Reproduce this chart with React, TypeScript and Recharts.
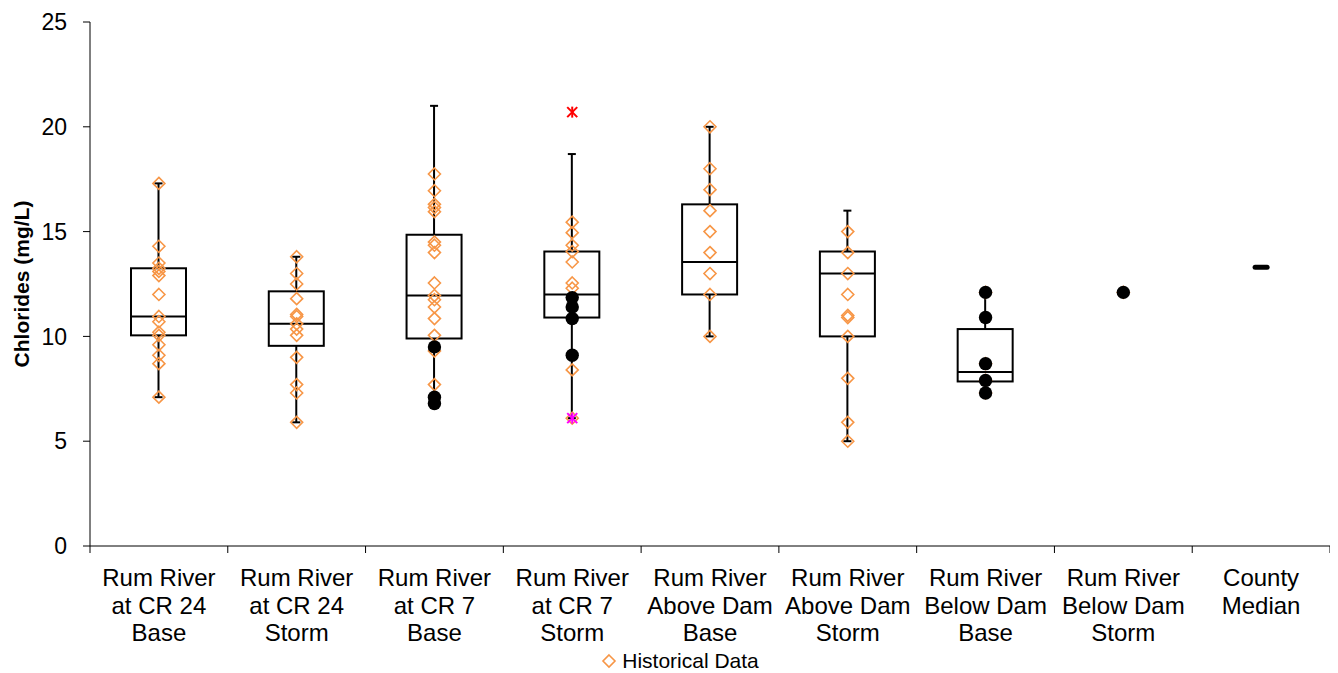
import { ComposedChart, Bar, Scatter, XAxis, YAxis, Legend } from 'recharts';

const FONT = '"Liberation Sans", Arial, sans-serif';
const ORANGE = '#F79646';

// sampling sites along the x axis, one label line per entry
const siteLabels = [
  ['Rum River', 'at CR 24', 'Base'],
  ['Rum River', 'at CR 24', 'Storm'],
  ['Rum River', 'at CR 7', 'Base'],
  ['Rum River', 'at CR 7', 'Storm'],
  ['Rum River', 'Above Dam', 'Base'],
  ['Rum River', 'Above Dam', 'Storm'],
  ['Rum River', 'Below Dam', 'Base'],
  ['Rum River', 'Below Dam', 'Storm'],
  ['County', 'Median'],
];

// box plot statistics (mg/L); null where a site has no box
const whiskerLow = [7.1, 5.9, 6.8, 6.1, 10.0, 5.0, 7.3, null, null];
const quartile1 = [10.05, 9.55, 9.9, 10.9, 12.0, 10.0, 7.85, null, null];
const medians = [10.95, 10.6, 11.95, 12.0, 13.55, 13.0, 8.3, null, null];
const quartile3 = [13.25, 12.15, 14.85, 14.05, 16.3, 14.05, 10.35, null, null];
const whiskerHigh = [17.3, 13.8, 21.0, 18.7, 20.0, 16.0, 12.1, null, null];

// historical samples per site
const historical = [
  [17.3, 14.3, 13.5, 13.25, 13.1, 12.9, 12.0, 10.95, 10.7, 10.2, 10.05, 9.6, 9.1, 8.7, 7.1],
  [13.8, 13.0, 12.5, 11.8, 11.05, 10.95, 10.6, 10.35, 10.05, 9.0, 7.7, 7.3, 5.9],
  [17.75, 16.95, 16.3, 16.15, 15.95, 14.5, 14.35, 14.0, 12.55, 11.95, 11.75, 11.4, 10.85, 10.05, 9.3, 7.7],
  [15.45, 14.95, 14.35, 14.05, 13.55, 12.55, 12.3, 8.4, 6.1],
  [20.0, 18.0, 17.0, 16.0, 15.0, 14.0, 13.0, 12.0, 10.0],
  [15.0, 14.0, 13.0, 12.0, 11.0, 10.9, 10.0, 8.0, 5.9, 5.0],
  [12.1, 8.7, 7.9, 7.3],
  [12.1],
  [],
];

// current year samples per site
const current = [
  [],
  [],
  [9.5, 7.1, 6.8],
  [11.85, 11.4, 10.85, 9.1],
  [],
  [],
  [12.1, 10.9, 8.7, 7.9, 7.3],
  [12.1],
  [],
];

// flagged maximum / minimum (site index 3)
const flaggedHigh = [{ site: 3, value: 20.7 }];
const flaggedLow = [{ site: 3, value: 6.1 }];

const countyMedian = [{ site: 8, value: 13.3 }];

const yTicks = [0, 5, 10, 15, 20, 25];
const xTicks = [0, 0.5, 1, 1.5, 2, 2.5, 3, 3.5, 4, 4.5, 5, 5.5, 6, 6.5, 7, 7.5, 8, 8.5, 9];

const boxRows = siteLabels.map((_, i) => ({
  x: i + 0.5,
  range: whiskerLow[i] == null ? null : [whiskerLow[i], whiskerHigh[i]],
  q1: quartile1[i],
  median: medians[i],
  q3: quartile3[i],
}));

const toPoints = (sets: number[][]) =>
  sets.flatMap((vals, i) => vals.map((v) => ({ x: i + 0.5, y: v })));

const historicalPoints = toPoints(historical);
const currentPoints = toPoints(current);
const highPoints = flaggedHigh.map((p) => ({ x: p.site + 0.5, y: p.value }));
const lowPoints = flaggedLow.map((p) => ({ x: p.site + 0.5, y: p.value }));
const medianPoints = countyMedian.map((p) => ({ x: p.site + 0.5, y: p.value }));

function BoxShape(props: any) {
  const { x, y, width, height, payload } = props;
  if (!payload || payload.range == null) return null;
  const [lo, hi] = payload.range;
  const top = Math.min(y, y + height);
  const h = Math.abs(height);
  const px = (v: number) => top + ((hi - v) / (hi - lo)) * h;
  const cx = x + width / 2;
  const cap = 4;
  return (
    <g>
      <line x1={cx} x2={cx} y1={px(hi)} y2={px(lo)} stroke="#000" strokeWidth={2} />
      <line x1={cx - cap} x2={cx + cap} y1={px(hi)} y2={px(hi)} stroke="#000" strokeWidth={2} />
      <line x1={cx - cap} x2={cx + cap} y1={px(lo)} y2={px(lo)} stroke="#000" strokeWidth={2} />
      <rect
        x={x}
        y={px(payload.q3)}
        width={width}
        height={px(payload.q1) - px(payload.q3)}
        fill="#fff"
        stroke="#000"
        strokeWidth={2}
      />
      <line x1={x} x2={x + width} y1={px(payload.median)} y2={px(payload.median)} stroke="#000" strokeWidth={2} />
    </g>
  );
}

const Diamond = ({ cx, cy }: any) => (
  <path
    d={`M${cx},${cy - 6}L${cx + 6},${cy}L${cx},${cy + 6}L${cx - 6},${cy}Z`}
    fill="none"
    stroke={ORANGE}
    strokeWidth={1.6}
  />
);

const Dot = ({ cx, cy }: any) => <circle cx={cx} cy={cy} r={6.7} fill="#000" />;

const star = (color: string) => ({ cx, cy }: any) => (
  <g stroke={color} strokeWidth={2}>
    <line x1={cx - 5} y1={cy - 5} x2={cx + 5} y2={cy + 5} />
    <line x1={cx - 5} y1={cy + 5} x2={cx + 5} y2={cy - 5} />
    <line x1={cx} y1={cy - 5.5} x2={cx} y2={cy + 5.5} />
  </g>
);

const Dash = ({ cx, cy }: any) => (
  <line x1={cx - 6} x2={cx + 6} y1={cy} y2={cy} stroke="#000" strokeWidth={5} strokeLinecap="round" />
);

// integer ticks are category borders, half ticks carry the site names
function SiteTick(props: any) {
  const { x, y, payload } = props;
  const v = payload.value;
  if (Number.isInteger(v)) {
    return <line x1={x} x2={x} y1={y - 7} y2={y} stroke="#000" strokeWidth={1} />;
  }
  const lines = siteLabels[Math.floor(v)];
  return (
    <text x={x} y={y + 33} textAnchor="middle" fontSize={24} fontFamily={FONT} fill="#000">
      {lines.map((l, k) => (
        <tspan key={k} x={x} dy={k === 0 ? 0 : 27.5}>
          {l}
        </tspan>
      ))}
    </text>
  );
}

const LegendContent = () => (
  <div
    style={{
      display: 'flex',
      justifyContent: 'center',
      alignItems: 'center',
      height: 24,
      paddingLeft: 22,
      fontFamily: FONT,
      fontSize: 21,
      color: '#000',
    }}
  >
    <svg width={16} height={16} style={{ marginRight: 5 }}>
      <path d="M8,2L14,8L8,14L2,8Z" fill="none" stroke={ORANGE} strokeWidth={1.6} />
    </svg>
    <span>Historical Data</span>
  </div>
);

export default function App() {
  return (
    <div style={{ fontFamily: FONT }}>
      <ComposedChart
        width={1330}
        height={665}
        data={boxRows}
        margin={{ top: 14, right: 8, left: 0, bottom: 0 }}
      >
        <XAxis
          dataKey="x"
          type="number"
          domain={[0, 9]}
          ticks={xTicks}
          interval={0}
          tickLine={false}
          tickSize={7}
          tickMargin={0}
          height={103}
          stroke="#000"
          tick={<SiteTick />}
        />
        <YAxis
          type="number"
          domain={[0, 25]}
          ticks={yTicks}
          interval={0}
          width={82}
          stroke="#000"
          tickSize={7}
          tickMargin={16}
          tick={{ fill: '#000', fontSize: 23, fontFamily: FONT }}
          label={{
            value: 'Chlorides (mg/L)',
            angle: -90,
            position: 'insideLeft',
            offset: 14,
            style: { textAnchor: 'middle', fontWeight: 'bold', fontSize: 21, fill: '#000', fontFamily: FONT },
          }}
        />
        <Legend verticalAlign="bottom" height={24} content={<LegendContent />} />
        <Bar dataKey="range" barSize={55} shape={<BoxShape />} isAnimationActive={false} legendType="none" />
        <Scatter data={historicalPoints} dataKey="y" shape={<Diamond />} isAnimationActive={false} legendType="none" />
        <Scatter data={currentPoints} dataKey="y" shape={<Dot />} isAnimationActive={false} legendType="none" />
        <Scatter data={highPoints} dataKey="y" shape={star('#FF0000')} isAnimationActive={false} legendType="none" />
        <Scatter data={lowPoints} dataKey="y" shape={star('#FF00FF')} isAnimationActive={false} legendType="none" />
        <Scatter data={medianPoints} dataKey="y" shape={<Dash />} isAnimationActive={false} legendType="none" />
      </ComposedChart>
    </div>
  );
}
